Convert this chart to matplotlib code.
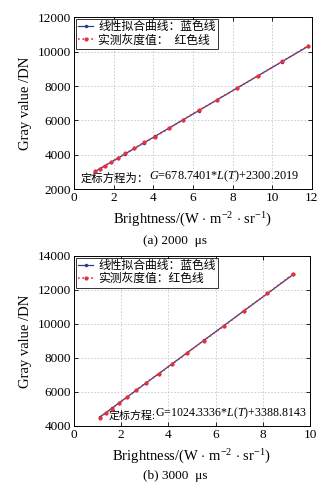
import matplotlib
matplotlib.use("Agg")
import matplotlib.pyplot as plt

plt.rcParams['font.family'] = ['Liberation Serif', 'Noto Sans CJK SC']
plt.rcParams['mathtext.fontset'] = 'custom'
plt.rcParams['mathtext.rm'] = 'Liberation Serif'
plt.rcParams['mathtext.it'] = 'Liberation Serif:italic'
plt.rcParams['axes.unicode_minus'] = False

# (a) 2000 us: brightness and measured gray values
bright_a = [1.05, 1.3, 1.55, 1.85, 2.2, 2.6, 3.05, 3.55, 4.1, 4.8, 5.5, 6.3, 7.2, 8.2, 9.3, 10.5, 11.8]
gray_a = [3060, 3200, 3360, 3560, 3800, 4080, 4390, 4720, 5060, 5540, 6040, 6590, 7190, 7870, 8610, 9430, 10340]
slope_a, icpt_a = 678.7401, 2300.2019

# (b) 3000 us
bright_b = [1.1, 1.35, 1.6, 1.9, 2.25, 2.65, 3.05, 3.6, 4.15, 4.8, 5.5, 6.35, 7.2, 8.2, 9.3]
gray_b = [4480, 4760, 5010, 5330, 5680, 6100, 6540, 7060, 7620, 8290, 9020, 9870, 10780, 11790, 12960]
slope_b, icpt_b = 1024.3336, 3388.8143

fit_label = '线性拟合曲线：蓝色线'
meas_label_a = '实测灰度值：  红色线'
meas_label_b = '实测灰度值：红色线'

BLUE = '#23408e'
RED = '#e8303c'
FS = 9.5
LFS = 10.5

fig = plt.figure(figsize=(3.27, 4.94), dpi=100)
ax1 = fig.add_axes([0.226, 0.617, 0.728, 0.348])
ax2 = fig.add_axes([0.226, 0.138, 0.722, 0.344])


def draw(ax, xs, ys, slope, icpt, meas_label, xlim, ylim, xticks, yticks):
    fit = [slope * x + icpt for x in xs]
    ax.plot(xs, fit, '-', color=BLUE, lw=0.9, marker='.', ms=3, label=fit_label, zorder=3)
    ax.plot(xs, ys, ':', color=RED, lw=1.2, marker='.', ms=4, label=meas_label, zorder=4)
    ax.set_xlim(*xlim)
    ax.set_ylim(*ylim)
    ax.set_xticks(xticks)
    ax.set_yticks(yticks)
    ax.grid(True, ls=(0, (2, 2)), color='#c8c8c8', lw=0.6)
    ax.tick_params(direction='in', length=3, width=0.6, labelsize=FS, top=True, right=True, pad=2)
    for s in ax.spines.values():
        s.set_linewidth(0.7)
    ax.set_xlabel(r'Brightness/(W $\cdot$ m$^{-2}$ $\cdot$ sr$^{-1}$)', fontsize=LFS, labelpad=5)
    ax.set_ylabel('Gray value /DN', fontsize=LFS, labelpad=4)
    leg = ax.legend(loc='upper left', fontsize=8.5, frameon=True, fancybox=False,
                    edgecolor='black', handlelength=1.3, handletextpad=0.4,
                    borderpad=0.2, labelspacing=0.1, borderaxespad=0.15)
    leg.get_frame().set_linewidth(0.7)


draw(ax1, bright_a, gray_a, slope_a, icpt_a, meas_label_a,
     (0, 12), (2000, 12000), range(0, 13, 2), range(2000, 12001, 2000))
draw(ax2, bright_b, gray_b, slope_b, icpt_b, meas_label_b,
     (0, 10), (4000, 14000), range(0, 11, 2), range(4000, 14001, 2000))

# calibration equations
t1 = ax1.text(0.03, 0.03, '定标方程为：', transform=ax1.transAxes, fontsize=8.2, va='bottom')
ax1.annotate(r'$G$=678.7401*$L$($T$)+2300.2019', xy=(1, 0), xycoords=t1,
             fontsize=8.8, va='bottom', ha='left')
t2 = ax2.text(0.145, 0.03, '定标方程:', transform=ax2.transAxes, fontsize=7.9, va='bottom')
ax2.annotate(r'G=1024.3336*$L$($T$)+3388.8143', xy=(1, 0), xycoords=t2,
             fontsize=8.6, va='bottom', ha='left')

fig.text(0.535, 0.512, '(a) 2000  μs', ha='center', va='center', fontsize=9.5)
fig.text(0.535, 0.037, '(b) 3000  μs', ha='center', va='center', fontsize=9.5)

fig.savefig('out.png', dpi=100)
